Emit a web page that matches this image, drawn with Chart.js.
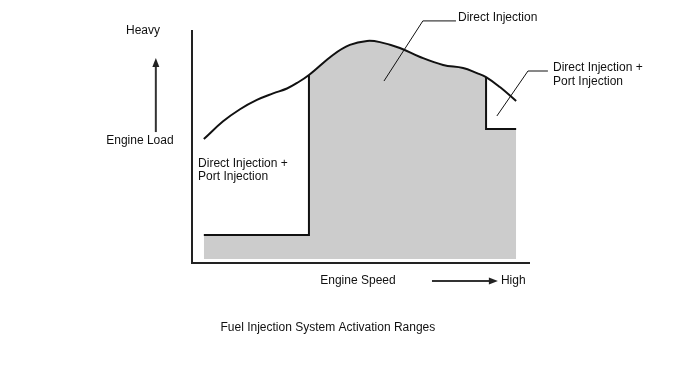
<!DOCTYPE html>
<html>
<head>
<meta charset="utf-8">
<script src="https://cdn.jsdelivr.net/npm/chart.js@4"></script>
<style>
  body { margin: 0; background: #fff; }
  #wrap { width: 688px; height: 366px; position: relative; }
</style>
</head>
<body>
<div id="wrap"><canvas id="myChart"></canvas></div>
<script>
// engine speed (0-100) vs engine load (0-100)
let curveSpeed = [3.5, 9.2, 14.2, 19.2, 24.0, 28.1, 31.1, 34.6, 41.7, 46.7, 51.8, 55.6, 61.5, 67.5, 74.3, 80.2, 84.3, 87.0, 91.1, 95.9];
let curveLoad  = [53.2, 60.8, 66.0, 70.0, 72.8, 74.9, 77.3, 80.7, 89.3, 93.6, 95.3, 94.8, 92.3, 88.4, 85.0, 83.7, 81.5, 79.8, 75.5, 69.5];

// range borders (speed / load)
let lowSpeedEdge = 3.5;
let diStart = 34.6;      // direct injection only from here
let diEnd = 87.0;        // back to direct + port
let highSpeedEdge = 95.9;
let lowLoadLevel = 12.0;
let highSpeedLevel = 57.5;
let floorLoad = 1.7;

let labelTexts = ['Heavy', 'Engine Load', 'Direct Injection +', 'Port Injection', 'Direct Injection',
  'Direct Injection +', 'Port Injection', 'Engine Speed', 'High', 'Fuel Injection System Activation Ranges'];

// where each label sits, in chart units
let labelPos = [
  {x: -14.5, y: 99.6, align: 'center'},
  {x: -15.4, y: 52.4, align: 'center'},
  {x: 1.8, y: 42.6, align: 'left'},
  {x: 1.8, y: 37.1, align: 'left'},
  {x: 78.7, y: 105.2, align: 'left'},
  {x: 106.8, y: 83.7, align: 'left'},
  {x: 106.8, y: 77.7, align: 'left'},
  {x: 49.1, y: -7.7, align: 'center'},
  {x: 91.4, y: -7.7, align: 'left'},
  {x: 40.2, y: -27.9, align: 'center'}
];

let toPoints = (xs, ys) => xs.map((v, i) => ({x: v, y: ys[i]}));
let curvePts = toPoints(curveSpeed, curveLoad);
let iStart = curveSpeed.indexOf(diStart);
let iEnd = curveSpeed.indexOf(diEnd);

let grey = '#cccccc';
let ink = '#111111';

let labelsPlugin = {
  id: 'labelsPlugin',
  afterDatasetsDraw(chart) {
    let ctx = chart.ctx;
    let sx = chart.scales.x, sy = chart.scales.y;
    ctx.save();
    ctx.font = '12px "Liberation Sans", Arial, sans-serif';
    ctx.fillStyle = ink;
    ctx.textBaseline = 'middle';
    labelTexts.forEach((t, i) => {
      ctx.textAlign = labelPos[i].align;
      ctx.fillText(t, sx.getPixelForValue(labelPos[i].x), sy.getPixelForValue(labelPos[i].y));
    });
    // load arrow (up) and speed arrow (right)
    ctx.strokeStyle = '#333';
    ctx.fillStyle = '#222';
    ctx.lineWidth = 2;
    let ax = sx.getPixelForValue(-10.7);
    let ay0 = sy.getPixelForValue(56.2), ay1 = sy.getPixelForValue(88.0);
    ctx.beginPath(); ctx.moveTo(ax, ay0); ctx.lineTo(ax, ay1 + 6); ctx.stroke();
    ctx.beginPath(); ctx.moveTo(ax, ay1); ctx.lineTo(ax - 3.5, ay1 + 9); ctx.lineTo(ax + 3.5, ay1 + 9); ctx.closePath(); ctx.fill();
    let by = sy.getPixelForValue(-7.7);
    let bx0 = sx.getPixelForValue(71.0), bx1 = sx.getPixelForValue(90.5);
    ctx.beginPath(); ctx.moveTo(bx0, by); ctx.lineTo(bx1 - 6, by); ctx.stroke();
    ctx.beginPath(); ctx.moveTo(bx1, by); ctx.lineTo(bx1 - 9, by - 3.5); ctx.lineTo(bx1 - 9, by + 3.5); ctx.closePath(); ctx.fill();
    ctx.restore();
  }
};

let ctx = document.getElementById('myChart').getContext('2d');
let myChart = new Chart(ctx, {
  type: 'line',
  data: {
    datasets: [
      { // axes
        data: [{x: 0, y: 100}, {x: 0, y: 0}, {x: 100, y: 0}],
        borderColor: '#222', borderWidth: 2, pointRadius: 0, fill: false, clip: false
      },
      { // load curve
        data: curvePts,
        borderColor: ink, borderWidth: 2, pointRadius: 0, fill: false,
        tension: 0.4, clip: false
      },
      { // low speed step
        data: [{x: lowSpeedEdge, y: lowLoadLevel}, {x: diStart, y: lowLoadLevel}, {x: diStart, y: curveLoad[iStart]}],
        borderColor: ink, borderWidth: 2, pointRadius: 0, fill: false, clip: false
      },
      { // high speed step
        data: [{x: diEnd, y: curveLoad[iEnd]}, {x: diEnd, y: highSpeedLevel}, {x: highSpeedEdge, y: highSpeedLevel}],
        borderColor: ink, borderWidth: 2, pointRadius: 0, fill: false, clip: false
      },
      { // leader to "Direct Injection"
        data: [{x: 56.8, y: 78.1}, {x: 68.3, y: 103.9}, {x: 78.1, y: 103.9}],
        borderColor: ink, borderWidth: 1, pointRadius: 0, fill: false, clip: false
      },
      { // leader to right label
        data: [{x: 90.2, y: 63.1}, {x: 99.4, y: 82.4}, {x: 105.3, y: 82.4}],
        borderColor: ink, borderWidth: 1, pointRadius: 0, fill: false, clip: false
      },
      { // fills
        data: [{x: lowSpeedEdge, y: lowLoadLevel}, {x: diStart + 0.4, y: lowLoadLevel}],
        borderWidth: 0, pointRadius: 0, backgroundColor: grey, fill: {value: floorLoad}, clip: false
      },
      {
        data: curvePts.slice(iStart, iEnd + 1),
        borderWidth: 0, pointRadius: 0, backgroundColor: grey, fill: {value: floorLoad},
        tension: 0.4, clip: false
      },
      {
        data: [{x: diEnd - 0.4, y: highSpeedLevel}, {x: highSpeedEdge, y: highSpeedLevel}],
        borderWidth: 0, pointRadius: 0, backgroundColor: grey, fill: {value: floorLoad}, clip: false
      }
    ]
  },
  options: {
    responsive: true,
    maintainAspectRatio: false,
    animation: false,
    layout: { padding: { left: 192, right: 158, top: 30, bottom: 103 } },
    plugins: { legend: { display: false }, tooltip: { enabled: false } },
    scales: {
      x: { type: 'linear', min: 0, max: 100, display: false },
      y: { type: 'linear', min: 0, max: 100, display: false }
    }
  },
  plugins: [labelsPlugin]
});
</script>
</body>
</html>
